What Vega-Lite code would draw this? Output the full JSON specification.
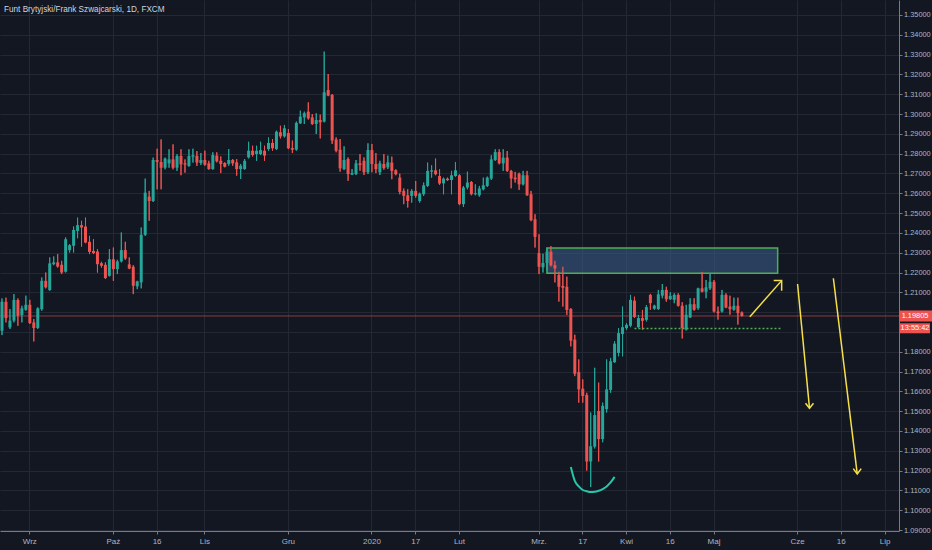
{
  "$schema": "https://vega.github.io/schema/vega-lite/v6.json",
  "width": 899,
  "height": 531,
  "autosize": "none",
  "padding": {"left": 0, "top": 0, "right": 33, "bottom": 19},
  "background": "#131722",
  "config": {
    "view": {"stroke": null},
    "font": "Liberation Sans, sans-serif",
    "axis": {
      "title": null,
      "tickSize": 3,
      "grid": true,
      "gridColor": "#242834",
      "domainColor": "#787b86",
      "tickColor": "#787b86",
      "labelColor": "#b2b5be",
      "labelFont": "Liberation Sans, sans-serif",
      "labelFontSize": 8,
      "labelFlush": false,
      "labelOverlap": false
    }
  },
  "title": {
    "text": "Funt Brytyjski/Frank Szwajcarski, 1D, FXCM",
    "anchor": "start",
    "frame": "group",
    "offset": -14,
    "dx": 4,
    "fontSize": 8.2,
    "fontWeight": "normal",
    "color": "#d1d4dc",
    "font": "Liberation Sans, sans-serif"
  },
  "datasets": {
    "candles": [
      {"d": "2019-08-22", "o": 1.1906, "h": 1.2069, "l": 1.1884, "c": 1.2052},
      {"d": "2019-08-23", "o": 1.2052, "h": 1.2073, "l": 1.1948, "c": 1.1970},
      {"d": "2019-08-26", "o": 1.1923, "h": 1.2015, "l": 1.1915, "c": 1.1957},
      {"d": "2019-08-27", "o": 1.1957, "h": 1.2091, "l": 1.1948, "c": 1.2061},
      {"d": "2019-08-28", "o": 1.2061, "h": 1.2069, "l": 1.1931, "c": 1.1982},
      {"d": "2019-08-29", "o": 1.1985, "h": 1.2032, "l": 1.1948, "c": 1.2019},
      {"d": "2019-08-30", "o": 1.2012, "h": 1.2083, "l": 1.2007, "c": 1.2037},
      {"d": "2019-09-02", "o": 1.2037, "h": 1.2062, "l": 1.1940, "c": 1.1945},
      {"d": "2019-09-03", "o": 1.1948, "h": 1.1965, "l": 1.1852, "c": 1.1920},
      {"d": "2019-09-04", "o": 1.1920, "h": 1.2024, "l": 1.1915, "c": 1.2019},
      {"d": "2019-09-05", "o": 1.2015, "h": 1.2175, "l": 1.2007, "c": 1.2158},
      {"d": "2019-09-06", "o": 1.2158, "h": 1.2200, "l": 1.2120, "c": 1.2125},
      {"d": "2019-09-09", "o": 1.2111, "h": 1.2276, "l": 1.2108, "c": 1.2246},
      {"d": "2019-09-10", "o": 1.2242, "h": 1.2281, "l": 1.2237, "c": 1.2251},
      {"d": "2019-09-11", "o": 1.2251, "h": 1.2293, "l": 1.2225, "c": 1.2230},
      {"d": "2019-09-12", "o": 1.2239, "h": 1.2259, "l": 1.2192, "c": 1.2200},
      {"d": "2019-09-13", "o": 1.2204, "h": 1.2377, "l": 1.2200, "c": 1.2368},
      {"d": "2019-09-16", "o": 1.2313, "h": 1.2343, "l": 1.2301, "c": 1.2338},
      {"d": "2019-09-17", "o": 1.2335, "h": 1.2432, "l": 1.2301, "c": 1.2415},
      {"d": "2019-09-18", "o": 1.2410, "h": 1.2477, "l": 1.2373, "c": 1.2439},
      {"d": "2019-09-19", "o": 1.2439, "h": 1.2461, "l": 1.2331, "c": 1.2427},
      {"d": "2019-09-20", "o": 1.2432, "h": 1.2477, "l": 1.2348, "c": 1.2351},
      {"d": "2019-09-23", "o": 1.2355, "h": 1.2385, "l": 1.2293, "c": 1.2304},
      {"d": "2019-09-24", "o": 1.2309, "h": 1.2368, "l": 1.2293, "c": 1.2298},
      {"d": "2019-09-25", "o": 1.2306, "h": 1.2318, "l": 1.2200, "c": 1.2242},
      {"d": "2019-09-26", "o": 1.2247, "h": 1.2254, "l": 1.2225, "c": 1.2234},
      {"d": "2019-09-27", "o": 1.2239, "h": 1.2251, "l": 1.2167, "c": 1.2172},
      {"d": "2019-09-30", "o": 1.2183, "h": 1.2318, "l": 1.2180, "c": 1.2267},
      {"d": "2019-10-01", "o": 1.2267, "h": 1.2326, "l": 1.2158, "c": 1.2217},
      {"d": "2019-10-02", "o": 1.2217, "h": 1.2264, "l": 1.2192, "c": 1.2256},
      {"d": "2019-10-03", "o": 1.2256, "h": 1.2402, "l": 1.2251, "c": 1.2313},
      {"d": "2019-10-04", "o": 1.2313, "h": 1.2355, "l": 1.2264, "c": 1.2271},
      {"d": "2019-10-07", "o": 1.2241, "h": 1.2276, "l": 1.2217, "c": 1.2220},
      {"d": "2019-10-08", "o": 1.2229, "h": 1.2237, "l": 1.2091, "c": 1.2133},
      {"d": "2019-10-09", "o": 1.2130, "h": 1.2158, "l": 1.2116, "c": 1.2155},
      {"d": "2019-10-10", "o": 1.2150, "h": 1.2427, "l": 1.2120, "c": 1.2390},
      {"d": "2019-10-11", "o": 1.2390, "h": 1.2674, "l": 1.2385, "c": 1.2603},
      {"d": "2019-10-14", "o": 1.2583, "h": 1.2612, "l": 1.2461, "c": 1.2561},
      {"d": "2019-10-15", "o": 1.2561, "h": 1.2780, "l": 1.2556, "c": 1.2768},
      {"d": "2019-10-16", "o": 1.2768, "h": 1.2825, "l": 1.2620, "c": 1.2758},
      {"d": "2019-10-17", "o": 1.2758, "h": 1.2872, "l": 1.2620, "c": 1.2729},
      {"d": "2019-10-18", "o": 1.2729, "h": 1.2780, "l": 1.2721, "c": 1.2775},
      {"d": "2019-10-21", "o": 1.2751, "h": 1.2822, "l": 1.2729, "c": 1.2771},
      {"d": "2019-10-22", "o": 1.2771, "h": 1.2847, "l": 1.2721, "c": 1.2729},
      {"d": "2019-10-23", "o": 1.2729, "h": 1.2797, "l": 1.2713, "c": 1.2788},
      {"d": "2019-10-24", "o": 1.2788, "h": 1.2822, "l": 1.2691, "c": 1.2746},
      {"d": "2019-10-25", "o": 1.2751, "h": 1.2771, "l": 1.2704, "c": 1.2745},
      {"d": "2019-10-28", "o": 1.2738, "h": 1.2822, "l": 1.2734, "c": 1.2788},
      {"d": "2019-10-29", "o": 1.2785, "h": 1.2825, "l": 1.2755, "c": 1.2792},
      {"d": "2019-10-30", "o": 1.2788, "h": 1.2813, "l": 1.2738, "c": 1.2755},
      {"d": "2019-10-31", "o": 1.2753, "h": 1.2803, "l": 1.2743, "c": 1.2768},
      {"d": "2019-11-01", "o": 1.2768, "h": 1.2815, "l": 1.2739, "c": 1.2744},
      {"d": "2019-11-04", "o": 1.2751, "h": 1.2764, "l": 1.2719, "c": 1.2722},
      {"d": "2019-11-05", "o": 1.2722, "h": 1.2807, "l": 1.2719, "c": 1.2793},
      {"d": "2019-11-06", "o": 1.2790, "h": 1.2807, "l": 1.2756, "c": 1.2761},
      {"d": "2019-11-07", "o": 1.2764, "h": 1.2786, "l": 1.2702, "c": 1.2748},
      {"d": "2019-11-08", "o": 1.2753, "h": 1.2756, "l": 1.2731, "c": 1.2734},
      {"d": "2019-11-11", "o": 1.2748, "h": 1.2823, "l": 1.2739, "c": 1.2768},
      {"d": "2019-11-12", "o": 1.2768, "h": 1.2773, "l": 1.2739, "c": 1.2751},
      {"d": "2019-11-13", "o": 1.2756, "h": 1.2773, "l": 1.2689, "c": 1.2722},
      {"d": "2019-11-14", "o": 1.2722, "h": 1.2748, "l": 1.2672, "c": 1.2739},
      {"d": "2019-11-15", "o": 1.2722, "h": 1.2773, "l": 1.2719, "c": 1.2764},
      {"d": "2019-11-18", "o": 1.2781, "h": 1.2860, "l": 1.2776, "c": 1.2815},
      {"d": "2019-11-19", "o": 1.2815, "h": 1.2840, "l": 1.2786, "c": 1.2793},
      {"d": "2019-11-20", "o": 1.2798, "h": 1.2840, "l": 1.2764, "c": 1.2815},
      {"d": "2019-11-21", "o": 1.2798, "h": 1.2860, "l": 1.2793, "c": 1.2818},
      {"d": "2019-11-22", "o": 1.2815, "h": 1.2840, "l": 1.2764, "c": 1.2790},
      {"d": "2019-11-25", "o": 1.2823, "h": 1.2882, "l": 1.2815, "c": 1.2854},
      {"d": "2019-11-26", "o": 1.2854, "h": 1.2874, "l": 1.2815, "c": 1.2827},
      {"d": "2019-11-27", "o": 1.2823, "h": 1.2916, "l": 1.2818, "c": 1.2911},
      {"d": "2019-11-28", "o": 1.2908, "h": 1.2941, "l": 1.2877, "c": 1.2887},
      {"d": "2019-11-29", "o": 1.2887, "h": 1.2945, "l": 1.2882, "c": 1.2928},
      {"d": "2019-12-02", "o": 1.2904, "h": 1.2924, "l": 1.2823, "c": 1.2827},
      {"d": "2019-12-03", "o": 1.2828, "h": 1.2866, "l": 1.2803, "c": 1.2820},
      {"d": "2019-12-04", "o": 1.2820, "h": 1.2962, "l": 1.2815, "c": 1.2955},
      {"d": "2019-12-05", "o": 1.2953, "h": 1.3017, "l": 1.2950, "c": 1.2987},
      {"d": "2019-12-06", "o": 1.2983, "h": 1.3012, "l": 1.2950, "c": 1.3004},
      {"d": "2019-12-09", "o": 1.3012, "h": 1.3059, "l": 1.2972, "c": 1.2978},
      {"d": "2019-12-10", "o": 1.2983, "h": 1.3000, "l": 1.2945, "c": 1.2950},
      {"d": "2019-12-11", "o": 1.2950, "h": 1.3004, "l": 1.2899, "c": 1.2970},
      {"d": "2019-12-12", "o": 1.2970, "h": 1.2997, "l": 1.2877, "c": 1.2958},
      {"d": "2019-12-13", "o": 1.2962, "h": 1.3315, "l": 1.2958, "c": 1.3110},
      {"d": "2019-12-16", "o": 1.3121, "h": 1.3202, "l": 1.3090, "c": 1.3093},
      {"d": "2019-12-17", "o": 1.3096, "h": 1.3101, "l": 1.2849, "c": 1.2866},
      {"d": "2019-12-18", "o": 1.2871, "h": 1.2882, "l": 1.2807, "c": 1.2815},
      {"d": "2019-12-19", "o": 1.2820, "h": 1.2874, "l": 1.2709, "c": 1.2726},
      {"d": "2019-12-20", "o": 1.2722, "h": 1.2837, "l": 1.2717, "c": 1.2768},
      {"d": "2019-12-23", "o": 1.2773, "h": 1.2781, "l": 1.2663, "c": 1.2697},
      {"d": "2019-12-24", "o": 1.2694, "h": 1.2722, "l": 1.2692, "c": 1.2702},
      {"d": "2019-12-26", "o": 1.2697, "h": 1.2768, "l": 1.2692, "c": 1.2751},
      {"d": "2019-12-27", "o": 1.2751, "h": 1.2798, "l": 1.2714, "c": 1.2743},
      {"d": "2019-12-30", "o": 1.2764, "h": 1.2781, "l": 1.2692, "c": 1.2706},
      {"d": "2019-12-31", "o": 1.2706, "h": 1.2852, "l": 1.2697, "c": 1.2818},
      {"d": "2020-01-02", "o": 1.2818, "h": 1.2849, "l": 1.2706, "c": 1.2748},
      {"d": "2020-01-03", "o": 1.2748, "h": 1.2803, "l": 1.2702, "c": 1.2722},
      {"d": "2020-01-06", "o": 1.2706, "h": 1.2764, "l": 1.2692, "c": 1.2751},
      {"d": "2020-01-07", "o": 1.2748, "h": 1.2798, "l": 1.2719, "c": 1.2727},
      {"d": "2020-01-08", "o": 1.2731, "h": 1.2790, "l": 1.2722, "c": 1.2756},
      {"d": "2020-01-09", "o": 1.2755, "h": 1.2785, "l": 1.2671, "c": 1.2713},
      {"d": "2020-01-10", "o": 1.2716, "h": 1.2721, "l": 1.2691, "c": 1.2696},
      {"d": "2020-01-13", "o": 1.2679, "h": 1.2699, "l": 1.2595, "c": 1.2607},
      {"d": "2020-01-14", "o": 1.2612, "h": 1.2624, "l": 1.2545, "c": 1.2587},
      {"d": "2020-01-15", "o": 1.2590, "h": 1.2620, "l": 1.2528, "c": 1.2561},
      {"d": "2020-01-16", "o": 1.2587, "h": 1.2620, "l": 1.2553, "c": 1.2612},
      {"d": "2020-01-17", "o": 1.2612, "h": 1.2662, "l": 1.2578, "c": 1.2587},
      {"d": "2020-01-20", "o": 1.2561, "h": 1.2603, "l": 1.2553, "c": 1.2598},
      {"d": "2020-01-21", "o": 1.2595, "h": 1.2654, "l": 1.2587, "c": 1.2640},
      {"d": "2020-01-22", "o": 1.2637, "h": 1.2755, "l": 1.2632, "c": 1.2713},
      {"d": "2020-01-23", "o": 1.2709, "h": 1.2741, "l": 1.2679, "c": 1.2716},
      {"d": "2020-01-24", "o": 1.2716, "h": 1.2775, "l": 1.2691, "c": 1.2696},
      {"d": "2020-01-27", "o": 1.2687, "h": 1.2721, "l": 1.2642, "c": 1.2649},
      {"d": "2020-01-28", "o": 1.2650, "h": 1.2679, "l": 1.2595, "c": 1.2674},
      {"d": "2020-01-29", "o": 1.2674, "h": 1.2679, "l": 1.2662, "c": 1.2666},
      {"d": "2020-01-30", "o": 1.2667, "h": 1.2713, "l": 1.2595, "c": 1.2691},
      {"d": "2020-01-31", "o": 1.2687, "h": 1.2758, "l": 1.2684, "c": 1.2716},
      {"d": "2020-02-03", "o": 1.2691, "h": 1.2696, "l": 1.2540, "c": 1.2545},
      {"d": "2020-02-04", "o": 1.2545, "h": 1.2637, "l": 1.2531, "c": 1.2629},
      {"d": "2020-02-05", "o": 1.2629, "h": 1.2709, "l": 1.2620, "c": 1.2654},
      {"d": "2020-02-06", "o": 1.2657, "h": 1.2662, "l": 1.2590, "c": 1.2595},
      {"d": "2020-02-07", "o": 1.2595, "h": 1.2645, "l": 1.2590, "c": 1.2600},
      {"d": "2020-02-10", "o": 1.2590, "h": 1.2637, "l": 1.2583, "c": 1.2624},
      {"d": "2020-02-11", "o": 1.2620, "h": 1.2679, "l": 1.2615, "c": 1.2640},
      {"d": "2020-02-12", "o": 1.2637, "h": 1.2684, "l": 1.2632, "c": 1.2679},
      {"d": "2020-02-13", "o": 1.2674, "h": 1.2792, "l": 1.2667, "c": 1.2771},
      {"d": "2020-02-14", "o": 1.2768, "h": 1.2822, "l": 1.2763, "c": 1.2808},
      {"d": "2020-02-17", "o": 1.2808, "h": 1.2822, "l": 1.2746, "c": 1.2751},
      {"d": "2020-02-18", "o": 1.2751, "h": 1.2822, "l": 1.2713, "c": 1.2780},
      {"d": "2020-02-19", "o": 1.2780, "h": 1.2813, "l": 1.2708, "c": 1.2713},
      {"d": "2020-02-20", "o": 1.2713, "h": 1.2718, "l": 1.2625, "c": 1.2674},
      {"d": "2020-02-21", "o": 1.2679, "h": 1.2708, "l": 1.2654, "c": 1.2671},
      {"d": "2020-02-24", "o": 1.2699, "h": 1.2704, "l": 1.2617, "c": 1.2645},
      {"d": "2020-02-25", "o": 1.2645, "h": 1.2713, "l": 1.2640, "c": 1.2691},
      {"d": "2020-02-26", "o": 1.2691, "h": 1.2713, "l": 1.2587, "c": 1.2590},
      {"d": "2020-02-27", "o": 1.2595, "h": 1.2612, "l": 1.2459, "c": 1.2464},
      {"d": "2020-02-28", "o": 1.2469, "h": 1.2494, "l": 1.2326, "c": 1.2380},
      {"d": "2020-03-02", "o": 1.2298, "h": 1.2393, "l": 1.2192, "c": 1.2229},
      {"d": "2020-03-03", "o": 1.2226, "h": 1.2295, "l": 1.2200, "c": 1.2248},
      {"d": "2020-03-04", "o": 1.2248, "h": 1.2325, "l": 1.2210, "c": 1.2305},
      {"d": "2020-03-05", "o": 1.2305, "h": 1.2333, "l": 1.2230, "c": 1.2236},
      {"d": "2020-03-06", "o": 1.2237, "h": 1.2259, "l": 1.2150, "c": 1.2220},
      {"d": "2020-03-09", "o": 1.2187, "h": 1.2204, "l": 1.2053, "c": 1.2128},
      {"d": "2020-03-10", "o": 1.2132, "h": 1.2229, "l": 1.2028, "c": 1.2123},
      {"d": "2020-03-11", "o": 1.2128, "h": 1.2179, "l": 1.1986, "c": 1.2011},
      {"d": "2020-03-12", "o": 1.2016, "h": 1.2020, "l": 1.1827, "c": 1.1856},
      {"d": "2020-03-13", "o": 1.1861, "h": 1.1886, "l": 1.1677, "c": 1.1689},
      {"d": "2020-03-16", "o": 1.1697, "h": 1.1761, "l": 1.1543, "c": 1.1610},
      {"d": "2020-03-17", "o": 1.1613, "h": 1.1660, "l": 1.1543, "c": 1.1577},
      {"d": "2020-03-18", "o": 1.1582, "h": 1.1593, "l": 1.1200, "c": 1.1246},
      {"d": "2020-03-19", "o": 1.1246, "h": 1.1493, "l": 1.1117, "c": 1.1323},
      {"d": "2020-03-20", "o": 1.1321, "h": 1.1719, "l": 1.1312, "c": 1.1480},
      {"d": "2020-03-23", "o": 1.1501, "h": 1.1644, "l": 1.1246, "c": 1.1359},
      {"d": "2020-03-24", "o": 1.1359, "h": 1.1543, "l": 1.1343, "c": 1.1527},
      {"d": "2020-03-25", "o": 1.1510, "h": 1.1761, "l": 1.1493, "c": 1.1610},
      {"d": "2020-03-26", "o": 1.1607, "h": 1.1769, "l": 1.1593, "c": 1.1752},
      {"d": "2020-03-27", "o": 1.1747, "h": 1.1853, "l": 1.1744, "c": 1.1841},
      {"d": "2020-03-30", "o": 1.1794, "h": 1.1919, "l": 1.1777, "c": 1.1894},
      {"d": "2020-03-31", "o": 1.1889, "h": 1.2028, "l": 1.1777, "c": 1.1924},
      {"d": "2020-04-01", "o": 1.1919, "h": 1.1945, "l": 1.1911, "c": 1.1936},
      {"d": "2020-04-02", "o": 1.1931, "h": 1.2087, "l": 1.1924, "c": 1.2062},
      {"d": "2020-04-03", "o": 1.2058, "h": 1.2078, "l": 1.1970, "c": 1.1975},
      {"d": "2020-04-06", "o": 1.1924, "h": 1.1986, "l": 1.1919, "c": 1.1970},
      {"d": "2020-04-07", "o": 1.1970, "h": 1.2011, "l": 1.1911, "c": 1.1956},
      {"d": "2020-04-08", "o": 1.1961, "h": 1.2036, "l": 1.1953, "c": 1.2025},
      {"d": "2020-04-09", "o": 1.2087, "h": 1.2092, "l": 1.2012, "c": 1.2045},
      {"d": "2020-04-10", "o": 1.2017, "h": 1.2037, "l": 1.2012, "c": 1.2033},
      {"d": "2020-04-13", "o": 1.2015, "h": 1.2112, "l": 1.2012, "c": 1.2090},
      {"d": "2020-04-14", "o": 1.2083, "h": 1.2142, "l": 1.2070, "c": 1.2112},
      {"d": "2020-04-15", "o": 1.2112, "h": 1.2128, "l": 1.2053, "c": 1.2065},
      {"d": "2020-04-16", "o": 1.2065, "h": 1.2100, "l": 1.2062, "c": 1.2082},
      {"d": "2020-04-17", "o": 1.2062, "h": 1.2095, "l": 1.2045, "c": 1.2087},
      {"d": "2020-04-20", "o": 1.2087, "h": 1.2095, "l": 1.2028, "c": 1.2032},
      {"d": "2020-04-21", "o": 1.2032, "h": 1.2050, "l": 1.1867, "c": 1.1920},
      {"d": "2020-04-22", "o": 1.1912, "h": 1.2037, "l": 1.1907, "c": 1.1987},
      {"d": "2020-04-23", "o": 1.1973, "h": 1.2070, "l": 1.1970, "c": 1.2040},
      {"d": "2020-04-24", "o": 1.2040, "h": 1.2070, "l": 1.2007, "c": 1.2012},
      {"d": "2020-04-27", "o": 1.2020, "h": 1.2123, "l": 1.2012, "c": 1.2120},
      {"d": "2020-04-28", "o": 1.2120, "h": 1.2203, "l": 1.2100, "c": 1.2103},
      {"d": "2020-04-29", "o": 1.2103, "h": 1.2162, "l": 1.2070, "c": 1.2125},
      {"d": "2020-04-30", "o": 1.2120, "h": 1.2195, "l": 1.2112, "c": 1.2153},
      {"d": "2020-05-01", "o": 1.2153, "h": 1.2162, "l": 1.1998, "c": 1.2003},
      {"d": "2020-05-04", "o": 1.2003, "h": 1.2028, "l": 1.1962, "c": 1.1995},
      {"d": "2020-05-05", "o": 1.2003, "h": 1.2112, "l": 1.1998, "c": 1.2087},
      {"d": "2020-05-06", "o": 1.2087, "h": 1.2095, "l": 1.2020, "c": 1.2023},
      {"d": "2020-05-07", "o": 1.2028, "h": 1.2083, "l": 1.1987, "c": 1.2015},
      {"d": "2020-05-08", "o": 1.2012, "h": 1.2073, "l": 1.2007, "c": 1.2032},
      {"d": "2020-05-11", "o": 1.2032, "h": 1.2073, "l": 1.1937, "c": 1.1995},
      {"d": "2020-05-12", "o": 1.1998, "h": 1.2003, "l": 1.1978, "c": 1.19805}
    ],
    "zone": [{"d": "2020-03-04", "d2": "2020-05-25", "top": 1.2324, "bot": 1.2196}],
    "support": [{"d": "2020-04-03", "p": 1.1917}, {"d": "2020-05-26", "p": 1.1917}],
    "arrows": [
      {"g": "a1", "k": 1, "d": "2020-05-14", "p": 1.1977},
      {"g": "a1", "k": 2, "d": "2020-05-26", "p": 1.2159},
      {"g": "a1h", "k": 1, "d": "2020-05-22", "p": 1.2159},
      {"g": "a1h", "k": 2, "d": "2020-05-26", "p": 1.2159},
      {"g": "a1h", "k": 3, "d": "2020-05-26", "p": 1.2108},
      {"g": "a2", "k": 1, "d": "2020-06-01", "p": 1.2142},
      {"g": "a2", "k": 2, "d": "2020-06-04", "p": 1.1515},
      {"g": "a2h", "k": 1, "d": "2020-06-03", "p": 1.1540},
      {"g": "a2h", "k": 2, "d": "2020-06-04", "p": 1.1515},
      {"g": "a2h", "k": 3, "d": "2020-06-05", "p": 1.1540},
      {"g": "a3", "k": 1, "d": "2020-06-12", "p": 1.2171},
      {"g": "a3", "k": 2, "d": "2020-06-22", "p": 1.1183},
      {"g": "a3h", "k": 1, "d": "2020-06-19", "p": 1.1210},
      {"g": "a3h", "k": 2, "d": "2020-06-22", "p": 1.1183},
      {"g": "a3h", "k": 3, "d": "2020-06-23", "p": 1.1210}
    ],
    "arc": [
      {"d": "2020-03-12", "p": 1.1218},
      {"d": "2020-03-13", "p": 1.1148},
      {"d": "2020-03-16", "p": 1.1120},
      {"d": "2020-03-17", "p": 1.1102},
      {"d": "2020-03-18", "p": 1.1096},
      {"d": "2020-03-19", "p": 1.1092},
      {"d": "2020-03-20", "p": 1.1093},
      {"d": "2020-03-23", "p": 1.1098},
      {"d": "2020-03-24", "p": 1.1107},
      {"d": "2020-03-25", "p": 1.1120},
      {"d": "2020-03-26", "p": 1.1140},
      {"d": "2020-03-27", "p": 1.1168}
    ],
    "last": [{"p": 1.19805, "price": "1.19805", "timer": "13:55:42"}]
  },
  "layer": [
    {
      "data": {"name": "candles"},
      "mark": {"type": "rule", "strokeWidth": 1},
      "encoding": {
        "x": {
          "field": "d",
          "type": "ordinal",
          "bandPosition": 0.5,
          "scale": {
            "type": "band",
            "paddingInner": 0,
            "paddingOuter": 0,
            "domain": [
              "2019-08-22","2019-08-23","2019-08-26","2019-08-27","2019-08-28","2019-08-29","2019-08-30",
              "2019-09-02","2019-09-03","2019-09-04","2019-09-05","2019-09-06","2019-09-09","2019-09-10","2019-09-11","2019-09-12","2019-09-13","2019-09-16","2019-09-17","2019-09-18","2019-09-19","2019-09-20","2019-09-23","2019-09-24","2019-09-25","2019-09-26","2019-09-27","2019-09-30",
              "2019-10-01","2019-10-02","2019-10-03","2019-10-04","2019-10-07","2019-10-08","2019-10-09","2019-10-10","2019-10-11","2019-10-14","2019-10-15","2019-10-16","2019-10-17","2019-10-18","2019-10-21","2019-10-22","2019-10-23","2019-10-24","2019-10-25","2019-10-28","2019-10-29","2019-10-30","2019-10-31",
              "2019-11-01","2019-11-04","2019-11-05","2019-11-06","2019-11-07","2019-11-08","2019-11-11","2019-11-12","2019-11-13","2019-11-14","2019-11-15","2019-11-18","2019-11-19","2019-11-20","2019-11-21","2019-11-22","2019-11-25","2019-11-26","2019-11-27","2019-11-28","2019-11-29",
              "2019-12-02","2019-12-03","2019-12-04","2019-12-05","2019-12-06","2019-12-09","2019-12-10","2019-12-11","2019-12-12","2019-12-13","2019-12-16","2019-12-17","2019-12-18","2019-12-19","2019-12-20","2019-12-23","2019-12-24","2019-12-26","2019-12-27","2019-12-30","2019-12-31",
              "2020-01-02","2020-01-03","2020-01-06","2020-01-07","2020-01-08","2020-01-09","2020-01-10","2020-01-13","2020-01-14","2020-01-15","2020-01-16","2020-01-17","2020-01-20","2020-01-21","2020-01-22","2020-01-23","2020-01-24","2020-01-27","2020-01-28","2020-01-29","2020-01-30","2020-01-31",
              "2020-02-03","2020-02-04","2020-02-05","2020-02-06","2020-02-07","2020-02-10","2020-02-11","2020-02-12","2020-02-13","2020-02-14","2020-02-17","2020-02-18","2020-02-19","2020-02-20","2020-02-21","2020-02-24","2020-02-25","2020-02-26","2020-02-27","2020-02-28",
              "2020-03-02","2020-03-03","2020-03-04","2020-03-05","2020-03-06","2020-03-09","2020-03-10","2020-03-11","2020-03-12","2020-03-13","2020-03-16","2020-03-17","2020-03-18","2020-03-19","2020-03-20","2020-03-23","2020-03-24","2020-03-25","2020-03-26","2020-03-27","2020-03-30","2020-03-31",
              "2020-04-01","2020-04-02","2020-04-03","2020-04-06","2020-04-07","2020-04-08","2020-04-09","2020-04-10","2020-04-13","2020-04-14","2020-04-15","2020-04-16","2020-04-17","2020-04-20","2020-04-21","2020-04-22","2020-04-23","2020-04-24","2020-04-27","2020-04-28","2020-04-29","2020-04-30",
              "2020-05-01","2020-05-04","2020-05-05","2020-05-06","2020-05-07","2020-05-08","2020-05-11","2020-05-12","2020-05-13","2020-05-14","2020-05-15","2020-05-18","2020-05-19","2020-05-20","2020-05-21","2020-05-22","2020-05-25","2020-05-26","2020-05-27","2020-05-28","2020-05-29",
              "2020-06-01","2020-06-02","2020-06-03","2020-06-04","2020-06-05","2020-06-08","2020-06-09","2020-06-10","2020-06-11","2020-06-12","2020-06-15","2020-06-16","2020-06-17","2020-06-18","2020-06-19","2020-06-22","2020-06-23","2020-06-24","2020-06-25","2020-06-26","2020-06-29","2020-06-30",
              "2020-07-01","2020-07-02","2020-07-03","2020-07-06"
            ]
          },
          "axis": {
            "orient": "bottom",
            "values": ["2019-09-02","2019-10-01","2019-10-16","2019-11-01","2019-12-02","2020-01-02","2020-01-17","2020-02-03","2020-03-02","2020-03-17","2020-04-01","2020-04-16","2020-05-01","2020-06-01","2020-06-16","2020-07-01"],
            "labelExpr": "['Wrz','Paź','16','Lis','Gru','2020','17','Lut','Mrz.','17','Kwi','16','Maj','Cze','16','Lip'][indexof(['2019-09-02','2019-10-01','2019-10-16','2019-11-01','2019-12-02','2020-01-02','2020-01-17','2020-02-03','2020-03-02','2020-03-17','2020-04-01','2020-04-16','2020-05-01','2020-06-01','2020-06-16','2020-07-01'], datum.value)]",
            "labelAngle": 0,
            "bandPosition": 0.5,
            "labelPadding": 3,
            "labelOverlap": false,
            "tickCount": 40
          }
        },
        "y": {
          "field": "l",
          "type": "quantitative",
          "scale": {"domain": [1.0895, 1.35757], "nice": false, "zero": false},
          "axis": {
            "orient": "right",
            "values": [1.09,1.10,1.11,1.12,1.13,1.14,1.15,1.16,1.17,1.18,1.19,1.20,1.21,1.22,1.23,1.24,1.25,1.26,1.27,1.28,1.29,1.30,1.31,1.32,1.33,1.34,1.35],
            "tickCount": 40,
            "labelExpr": "abs(datum.value - 1.2) < 0.001 || abs(datum.value - 1.19) < 0.001 ? '' : format(datum.value, '.5f')",
            "labelFontSize": 7.4,
            "labelPadding": 1.5,
            "labelOverlap": false
          }
        },
        "y2": {"field": "h"},
        "color": {"condition": {"test": "datum.c >= datum.o", "value": "#26a69a"}, "value": "#ef5350"}
      }
    },
    {
      "data": {"name": "last"},
      "mark": {"type": "rule", "color": "#ef5350", "opacity": 0.56, "strokeWidth": 1},
      "encoding": {"y": {"field": "p", "type": "quantitative"}}
    },
    {
      "data": {"name": "zone"},
      "mark": {"type": "rect", "fill": "#3a5a85", "fillOpacity": 0.6, "stroke": "#4caf50", "strokeWidth": 1.5},
      "encoding": {
        "x": {"field": "d", "type": "ordinal", "bandPosition": 0.5},
        "x2": {"field": "d2"},
        "y": {"field": "top", "type": "quantitative"},
        "y2": {"field": "bot"}
      }
    },
    {
      "data": {"name": "candles"},
      "mark": {"type": "rule", "strokeWidth": 1},
      "encoding": {
        "x": {"field": "d", "type": "ordinal", "bandPosition": 0.5},
        "y": {"field": "l", "type": "quantitative"},
        "y2": {"field": "h"},
        "color": {"condition": {"test": "datum.c >= datum.o", "value": "#26a69a"}, "value": "#ef5350"}
      }
    },
    {
      "data": {"name": "candles"},
      "mark": {"type": "bar", "size": 3},
      "encoding": {
        "x": {"field": "d", "type": "ordinal"},
        "y": {"field": "o", "type": "quantitative"},
        "y2": {"field": "c"},
        "color": {"condition": {"test": "datum.c >= datum.o", "value": "#26a69a"}, "value": "#ef5350"}
      }
    },
    {
      "data": {"name": "support"},
      "mark": {"type": "line", "color": "#4caf50", "strokeWidth": 1.5, "strokeDash": [2, 2]},
      "encoding": {
        "x": {"field": "d", "type": "ordinal", "bandPosition": 0.5},
        "y": {"field": "p", "type": "quantitative"}
      }
    },
    {
      "data": {"name": "arrows"},
      "mark": {"type": "line", "color": "#f5e04a", "strokeWidth": 1.5},
      "encoding": {
        "x": {"field": "d", "type": "ordinal", "bandPosition": 0.5},
        "y": {"field": "p", "type": "quantitative"},
        "detail": {"field": "g"},
        "order": {"field": "k", "type": "quantitative"}
      }
    },
    {
      "data": {"name": "arc"},
      "mark": {"type": "line", "color": "#26c6a9", "strokeWidth": 2, "interpolate": "monotone"},
      "encoding": {
        "x": {"field": "d", "type": "ordinal", "bandPosition": 0.5},
        "y": {"field": "p", "type": "quantitative"}
      }
    },
    {
      "data": {"name": "last"},
      "mark": {"type": "rect", "fill": "#ef5350", "xOffset": 2, "x2Offset": 35, "yOffset": -5.5, "y2Offset": 5.5},
      "encoding": {
        "x": {"datum": "2020-07-06", "type": "ordinal", "bandPosition": 0.5},
        "x2": {"datum": "2020-07-06"},
        "y": {"field": "p", "type": "quantitative"},
        "y2": {"field": "p"}
      }
    },
    {
      "data": {"name": "last"},
      "mark": {"type": "rect", "fill": "#ef5350", "xOffset": 3, "x2Offset": 33, "yOffset": 7.3, "y2Offset": 17.3},
      "encoding": {
        "x": {"datum": "2020-07-06", "type": "ordinal", "bandPosition": 0.5},
        "x2": {"datum": "2020-07-06"},
        "y": {"field": "p", "type": "quantitative"},
        "y2": {"field": "p"}
      }
    },
    {
      "data": {"name": "last"},
      "mark": {"type": "text", "color": "#ffffff", "fontSize": 7.4, "dx": 18, "align": "center", "baseline": "middle"},
      "encoding": {
        "x": {"datum": "2020-07-06", "type": "ordinal", "bandPosition": 0.5},
        "y": {"field": "p", "type": "quantitative"},
        "text": {"field": "price"}
      }
    },
    {
      "data": {"name": "last"},
      "mark": {"type": "text", "color": "#ffffff", "fontSize": 7.4, "dx": 18, "dy": 12.5, "align": "center", "baseline": "middle"},
      "encoding": {
        "x": {"datum": "2020-07-06", "type": "ordinal", "bandPosition": 0.5},
        "y": {"field": "p", "type": "quantitative"},
        "text": {"field": "timer"}
      }
    }
  ]
}
